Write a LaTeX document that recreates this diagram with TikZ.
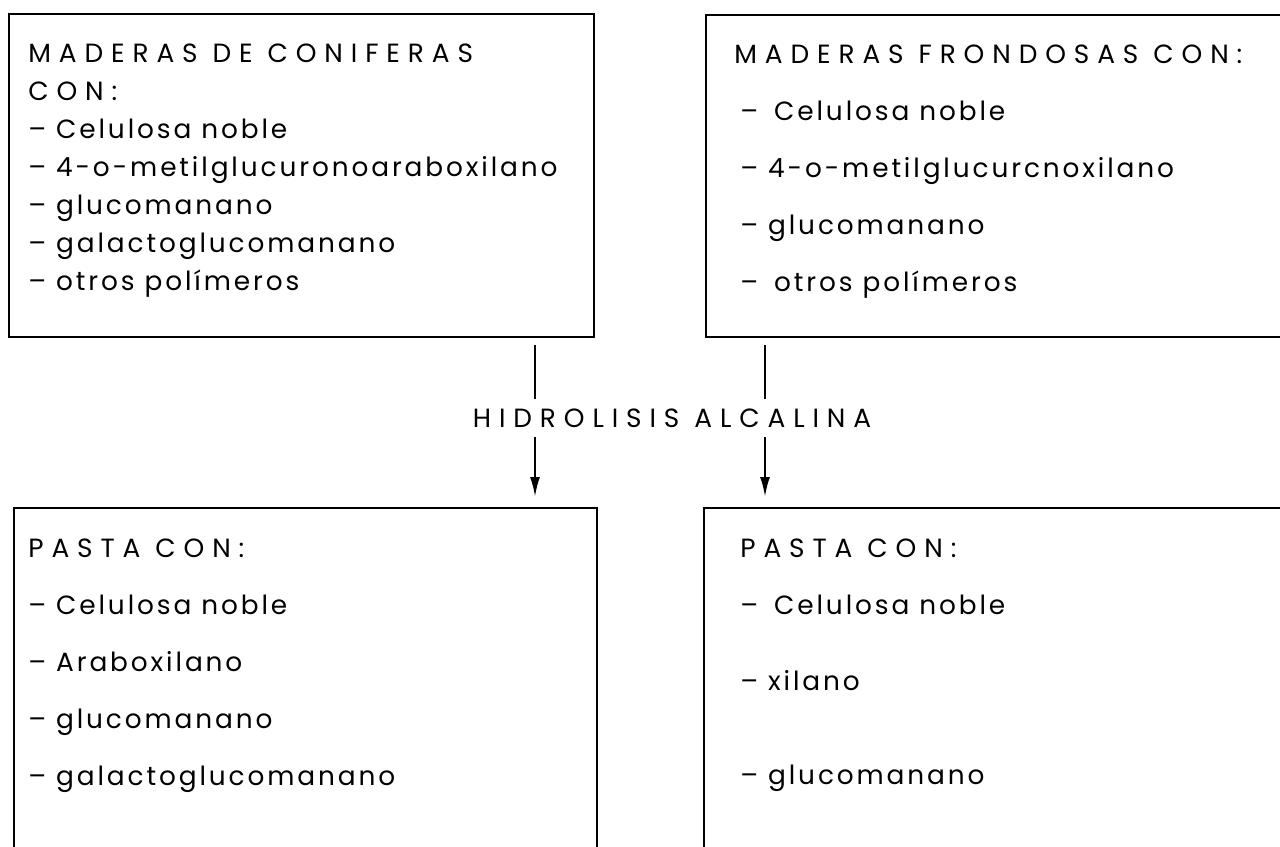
\documentclass[tikz,border=0pt]{standalone}
\usepackage{fontspec}
\setmainfont{Poppins}[LetterSpace=11]
\newfontfamily\capsfont{Poppins}[LetterSpace=30]
\usepackage{tikz}
\usetikzlibrary{shapes,arrows.meta}
\tikzstyle{block} = [rectangle, draw, line width=1.3pt, anchor=north west, inner sep=0pt]
\tikzstyle{txt} = [anchor=north west, align=left, inner sep=0pt, font=\fontsize{15}{21.6}\selectfont]
\tikzstyle{txtwide} = [txt, font=\fontsize{15}{32.4}\selectfont]
\tikzstyle{stem} = [draw, line width=1.3pt, shorten <=0.14cm]
\tikzstyle{line} = [draw, line width=1.3pt, shorten >=0.2cm, -{Latex[length=0.4cm,width=0.2cm]}]

\begin{document}
\begin{tikzpicture}[x=0.02cm,y=-0.02cm]
\useasboundingbox (0,0) rectangle (1280,846);
\clip (0,0) rectangle (1280,846);
% cajas
\node [block, minimum width=11.7cm, minimum height=6.46cm] (coniferas) at (8,13) {};
\node [block, minimum width=11.9cm, minimum height=6.44cm] (frondosas) at (705,14) {};
\node [block, minimum width=11.66cm, minimum height=7.9cm] (pasta-con) at (13,507) {};
\node [block, minimum width=11.94cm, minimum height=7.9cm] (pasta-fro) at (703,507) {};
% textos
\node [txt] (coniferas-txt) at (28,43.5) {{\capsfont MADERAS DE CONIFERAS}\\
  {\capsfont CON:}\\
  – Celulosa noble\\
  – 4-o-metilglucuronoaraboxilano\\
  – glucomanano\\
  – galactoglucomanano\\
  – otros polímeros};
\node [txtwide] (frondosas-txt) at (734,44.5) {{\capsfont MADERAS FRONDOSAS CON:}\\
  \hspace{0.12cm}–\hspace{0.12cm} Celulosa noble\\
  \hspace{0.12cm}– 4-o-metilglucurcnoxilano\\
  \hspace{0.12cm}– glucomanano\\
  \hspace{0.12cm}–\hspace{0.12cm} otros polímeros};
\node [txtwide] (pasta-con-txt) at (28,538.5) {{\capsfont PASTA CON:}\\
  – Celulosa noble\\
  – Araboxilano\\
  – glucomanano\\
  – galactoglucomanano};
\node [txtwide] (pasta-fro-txt) at (740,538.5) {{\capsfont PASTA CON:}\\
  –\hspace{0.12cm} Celulosa noble\\[10.8pt]
  – xilano\\[21pt]
  – glucomanano};
% flechas
\node [inner sep=0pt, minimum height=0.76cm, font=\fontsize{15}{16}\capsfont] (hidrolisis) at (672,418) {HIDROLISIS ALCALINA};
\coordinate (izq) at (535,0);
\coordinate (der) at (765,0);
\path [stem] (coniferas.south -| izq) -- (hidrolisis.north -| izq);
\path [line] (hidrolisis.south -| izq) -- (pasta-con.north -| izq);
\path [stem] (frondosas.south -| der) -- (hidrolisis.north -| der);
\path [line] (hidrolisis.south -| der) -- (pasta-fro.north -| der);
\end{tikzpicture}
\end{document}
